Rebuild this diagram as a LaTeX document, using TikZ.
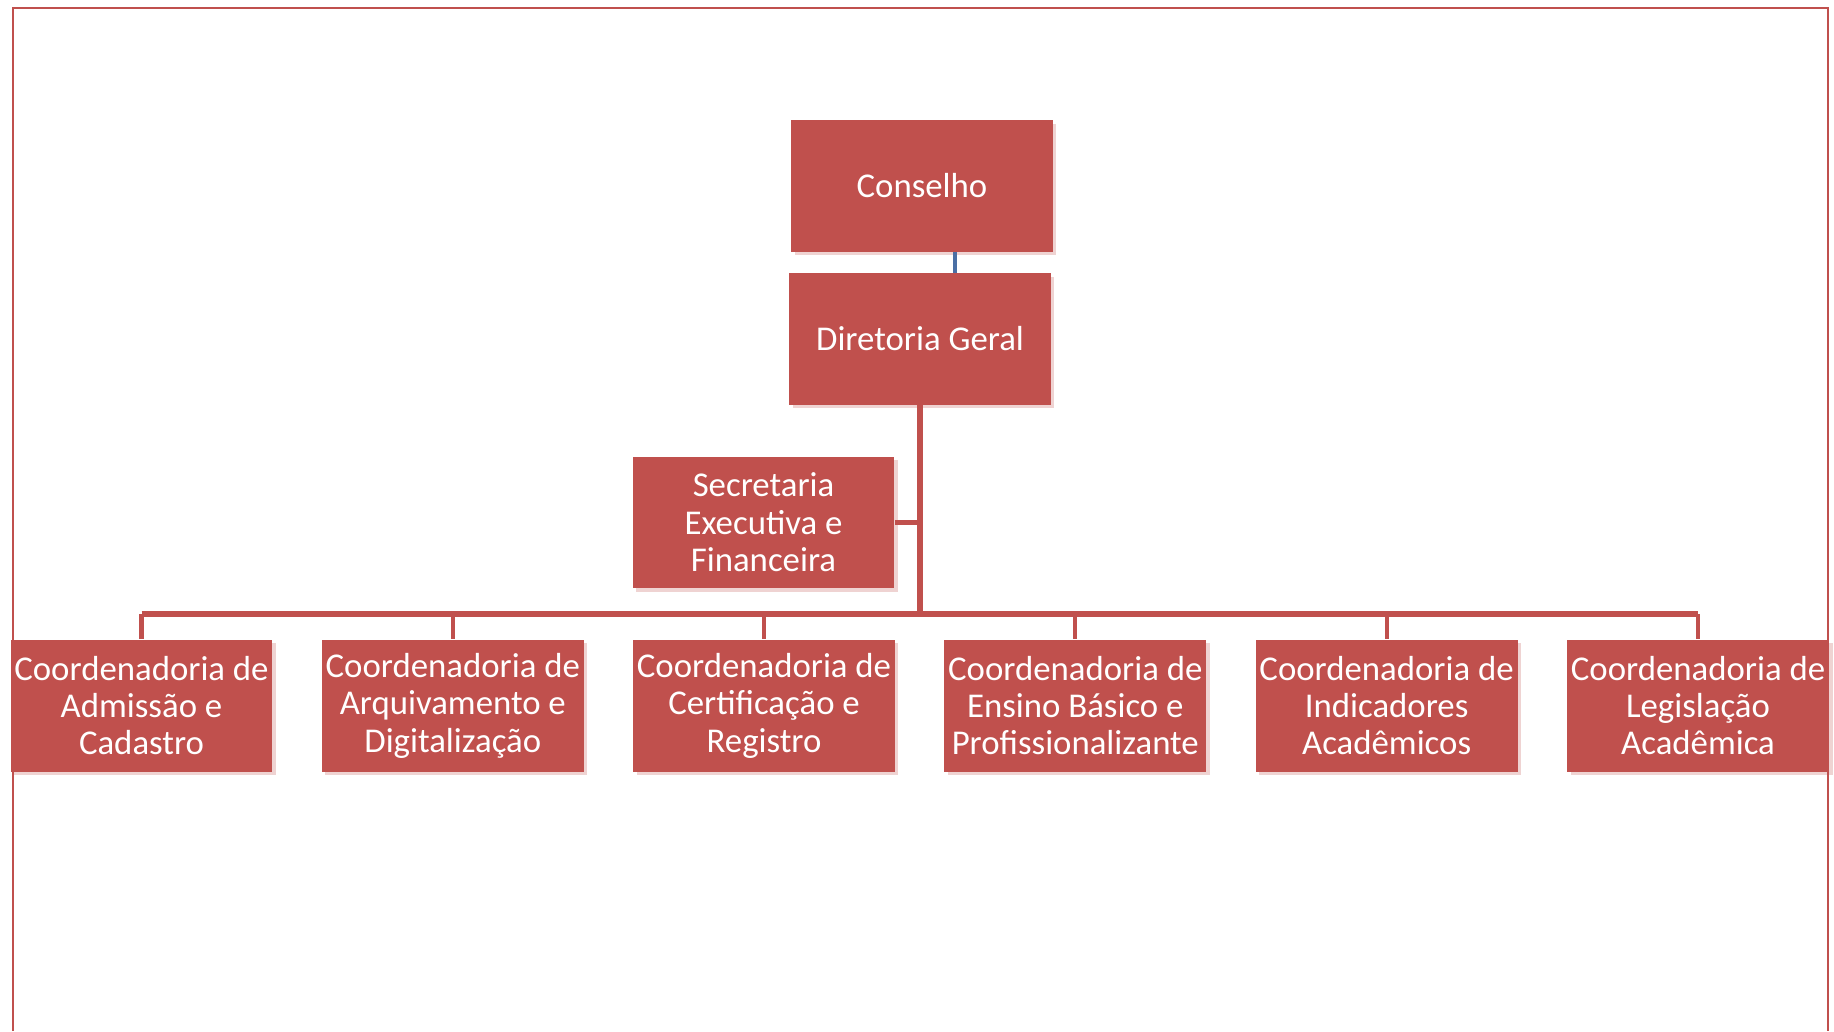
\documentclass[tikz,border=0pt]{standalone}
\usepackage{fontspec}
\setmainfont{Carlito}
\usetikzlibrary{shapes,arrows,backgrounds,positioning,shadows}
\definecolor{orgred}{HTML}{C0504D}
\definecolor{orgblue}{HTML}{4A6FA5}

\begin{document}
\begin{tikzpicture}[x = 0.02cm, y = -0.02cm,
	unit/.style = {fill = orgred, text = white, minimum width = 5.24cm,
		minimum height = 2.64cm, inner sep = 0pt, align = center,
		font = \fontsize{19.8}{21.3}\selectfont,
		drop shadow = {shadow xshift = 0.07cm, shadow yshift = -0.07cm,
			fill = orgred, opacity = 0.25}},
	link/.style = {draw = orgred, line width = 3.4pt},
	drop/.style = {draw = orgred, line width = 2.4pt}]
\useasboundingbox (0,0) rectangle (1834,1031);
\draw [orgred, line width = 1pt] (13,1031) -- (13,8) -- (1828,8) -- (1828,1031);

\node [unit] (conselho) at (922,186) {Conselho};
\node [unit] (diretoria) at (920,339) {Diretoria Geral};
\node [unit] (secretaria) at (763.5,522.5) {Secretaria\\Executiva e\\Financeira};
\foreach \name/\x/\txt in {
	admissao/141.5/{Coordenadoria de\\Admissão e\\Cadastro},
	arquivo/452.8/{Coordenadoria de\\Arquivamento e\\Digitalização},
	certific/764/{Coordenadoria de\\Certificação e\\Registro},
	ensino/1075.3/{Coordenadoria de\\Ensino Básico e\\Profissionalizante},
	indicad/1386.6/{Coordenadoria de\\Indicadores\\Acadêmicos},
	legisl/1698/{Coordenadoria de\\Legislação\\Acadêmica}}
	\node [unit] (\name) at (\x,705.5) {\txt};

\coordinate (cb) at (955,252);
\coordinate (bus) at (920,614);
\draw [orgblue, line width = 2.5pt] (cb) -- (cb |- diretoria.north);
\draw [link] (diretoria.south) -- (bus);
\draw [drop] (secretaria.east) -- (secretaria.east -| diretoria.south);
\draw [link] (admissao.north |- bus) -- (legisl.north |- bus);
\foreach \name in {admissao,arquivo,certific,ensino,indicad,legisl}
\draw [drop] (\name.north |- bus) -- (\name.north);
\end{tikzpicture}
\end{document}
